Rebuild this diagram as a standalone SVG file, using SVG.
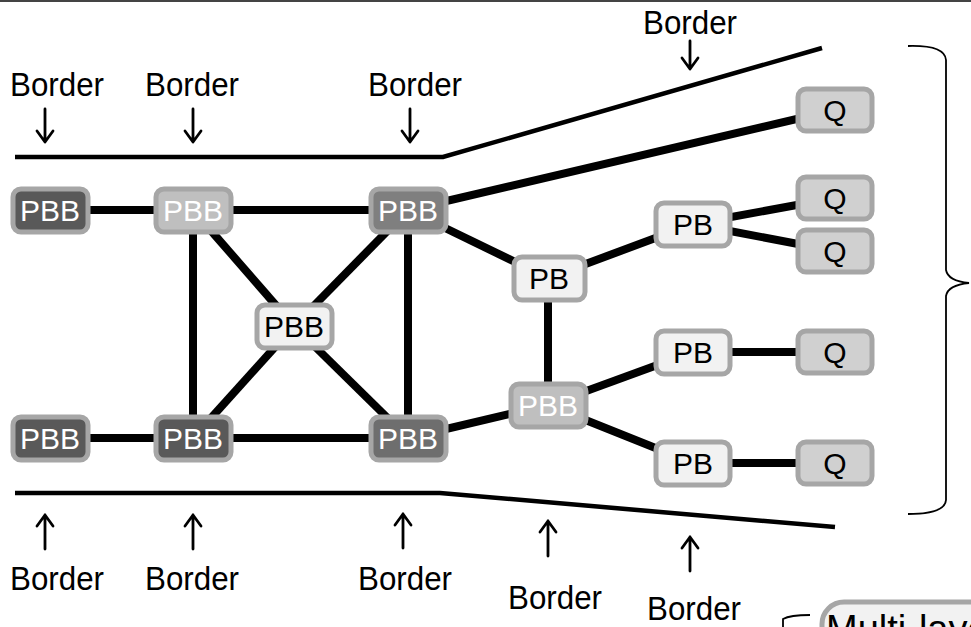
<svg xmlns="http://www.w3.org/2000/svg" width="971" height="627" viewBox="0 0 971 627">
  <style>
    .lbl { font-family: "Liberation Sans", Arial, sans-serif; font-size: 34px; text-anchor: middle; fill: #000; }
    .ntxt { font-family: "Liberation Sans", Arial, sans-serif; font-size: 30px; text-anchor: middle; }
    .box { stroke: #a6a6a6; stroke-width: 5; }
    .dark { fill: #595959; }
    .mid { fill: #7f7f7f; }
    .light { fill: #bfbfbf; }
    .pale { fill: #f2f2f2; }
    .qfill { fill: #d0d0d0; }
    .wt { fill: #fff; }
    .bk { fill: #000; }
    .link { stroke: #000; stroke-width: 8; fill: none; }
    .border { stroke: #000; stroke-width: 4.5; fill: none; }
    .arrow { stroke: #000; stroke-width: 2.8; fill: none; stroke-linecap: round; stroke-linejoin: round; }
  </style>

  <rect x="0" y="0" width="971" height="2" fill="#444"/>

  <!-- region borders -->
  <g id="borders">
    <polyline class="border" points="15,157 443,157 822,48"/>
    <polyline class="border" points="15,493 440,493 835,527"/>
  </g>

  <!-- connectors -->
  <g id="connectors">
    <line class="link" x1="50" y1="210" x2="408" y2="210"/>
    <line class="link" x1="193" y1="210" x2="193" y2="438"/>
    <line class="link" x1="193" y1="210" x2="294" y2="326"/>
    <line class="link" x1="408" y1="210" x2="294" y2="326"/>
    <line class="link" x1="294" y1="326" x2="193" y2="438"/>
    <line class="link" x1="294" y1="326" x2="408" y2="438"/>
    <line class="link" x1="408" y1="210" x2="408" y2="438"/>
    <line class="link" x1="50" y1="438" x2="408" y2="438"/>
    <line class="link" x1="408" y1="210" x2="548" y2="278"/>
    <line class="link" x1="408" y1="438" x2="548" y2="405"/>
    <line class="link" x1="548" y1="278" x2="548" y2="405"/>
    <line class="link" x1="548" y1="278" x2="693" y2="224"/>
    <line class="link" x1="548" y1="405" x2="693" y2="352"/>
    <line class="link" x1="548" y1="405" x2="693" y2="463"/>
    <line class="link" x1="693" y1="224" x2="835" y2="198"/>
    <line class="link" x1="693" y1="224" x2="835" y2="251"/>
    <line class="link" x1="693" y1="352" x2="835" y2="352"/>
    <line class="link" x1="693" y1="463" x2="835" y2="463"/>
    <line class="link" x1="408" y1="210" x2="835" y2="110"/>
  </g>

  <!-- nodes -->
  <g id="pbb1"><rect class="box dark" x="13" y="189" width="75" height="43" rx="8"/><text class="ntxt wt" x="50" y="221">PBB</text></g>
  <g id="pbb2"><rect class="box light" x="156" y="189" width="75" height="43" rx="8"/><text class="ntxt wt" x="193" y="221">PBB</text></g>
  <g id="pbb3"><rect class="box mid" x="371" y="189" width="75" height="43" rx="8"/><text class="ntxt wt" x="408" y="221">PBB</text></g>
  <g id="pbb4"><rect class="box pale" x="257" y="305" width="75" height="43" rx="8"/><text class="ntxt bk" x="294" y="337">PBB</text></g>
  <g id="pbb5"><rect class="box dark" x="13" y="417" width="75" height="43" rx="8"/><text class="ntxt wt" x="50" y="449">PBB</text></g>
  <g id="pbb6"><rect class="box dark" x="156" y="417" width="75" height="43" rx="8"/><text class="ntxt wt" x="193" y="449">PBB</text></g>
  <g id="pbb7"><rect class="box" fill="#6e6e6e" x="371" y="417" width="75" height="43" rx="8"/><text class="ntxt wt" x="408" y="449">PBB</text></g>
  <g id="pbb8"><rect class="box light" x="511" y="384" width="75" height="43" rx="8"/><text class="ntxt wt" x="548" y="416">PBB</text></g>
  <g id="pb1"><rect class="box pale" x="514" y="257" width="71" height="43" rx="8"/><text class="ntxt bk" x="549" y="289">PB</text></g>
  <g id="pb2"><rect class="box pale" x="656" y="203" width="74" height="43" rx="8"/><text class="ntxt bk" x="693" y="235">PB</text></g>
  <g id="pb3"><rect class="box pale" x="656" y="331" width="74" height="43" rx="8"/><text class="ntxt bk" x="693" y="363">PB</text></g>
  <g id="pb4"><rect class="box pale" x="656" y="442" width="74" height="43" rx="8"/><text class="ntxt bk" x="693" y="474">PB</text></g>
  <g id="q1"><rect class="box qfill" x="798" y="89" width="74" height="42" rx="8"/><text class="ntxt bk" x="835" y="121">Q</text></g>
  <g id="q2"><rect class="box qfill" x="798" y="177" width="74" height="42" rx="8"/><text class="ntxt bk" x="835" y="209">Q</text></g>
  <g id="q3"><rect class="box qfill" x="798" y="230" width="74" height="42" rx="8"/><text class="ntxt bk" x="835" y="262">Q</text></g>
  <g id="q4"><rect class="box qfill" x="798" y="331" width="74" height="42" rx="8"/><text class="ntxt bk" x="835" y="363">Q</text></g>
  <g id="q5"><rect class="box qfill" x="798" y="442" width="74" height="42" rx="8"/><text class="ntxt bk" x="835" y="474">Q</text></g>

  <!-- border labels with arrows -->
  <g id="labels">
    <text class="lbl" x="57" y="96" textLength="94" lengthAdjust="spacingAndGlyphs">Border</text>
    <path class="arrow" d="M45,109 V142 M37,131 L45,142 L53,131"/>
    <text class="lbl" x="192" y="96" textLength="94" lengthAdjust="spacingAndGlyphs">Border</text>
    <path class="arrow" d="M193,109 V142 M185,131 L193,142 L201,131"/>
    <text class="lbl" x="415" y="96" textLength="94" lengthAdjust="spacingAndGlyphs">Border</text>
    <path class="arrow" d="M410,109 V142 M402,131 L410,142 L418,131"/>
    <text class="lbl" x="690" y="34" textLength="94" lengthAdjust="spacingAndGlyphs">Border</text>
    <path class="arrow" d="M690,41 V69 M682,58 L690,69 L698,58"/>

    <path class="arrow" d="M45,549 V515 M37,526 L45,515 L53,526"/>
    <text class="lbl" x="57" y="590" textLength="94" lengthAdjust="spacingAndGlyphs">Border</text>
    <path class="arrow" d="M193,549 V515 M185,526 L193,515 L201,526"/>
    <text class="lbl" x="192" y="590" textLength="94" lengthAdjust="spacingAndGlyphs">Border</text>
    <path class="arrow" d="M403,548 V514 M395,525 L403,514 L411,525"/>
    <text class="lbl" x="405" y="590" textLength="94" lengthAdjust="spacingAndGlyphs">Border</text>
    <path class="arrow" d="M548,556 V521 M540,532 L548,521 L556,532"/>
    <text class="lbl" x="555" y="609" textLength="94" lengthAdjust="spacingAndGlyphs">Border</text>
    <path class="arrow" d="M690,571 V537 M682,548 L690,537 L698,548"/>
    <text class="lbl" x="694" y="620" textLength="94" lengthAdjust="spacingAndGlyphs">Border</text>
  </g>

  <!-- right brace -->
  <path d="M908,46 Q945,45 946,60 V270 Q948,281 969,283 Q948,285 946,296 V500 Q945,514 908,514" fill="none" stroke="#000" stroke-width="1.8"/>

  <!-- multi-layer pill -->
  <g id="multilayer">
    <path d="M810,615 Q790,615 783,619 V627" fill="none" stroke="#000" stroke-width="1.8"/>
    <rect x="822" y="602" width="200" height="60" rx="22" fill="#f2f2f2" stroke="#a6a6a6" stroke-width="5"/>
    <text x="826" y="642" font-family="Liberation Sans, Arial, sans-serif" font-size="38" fill="#000">Multi-layer</text>
  </g>
</svg>
